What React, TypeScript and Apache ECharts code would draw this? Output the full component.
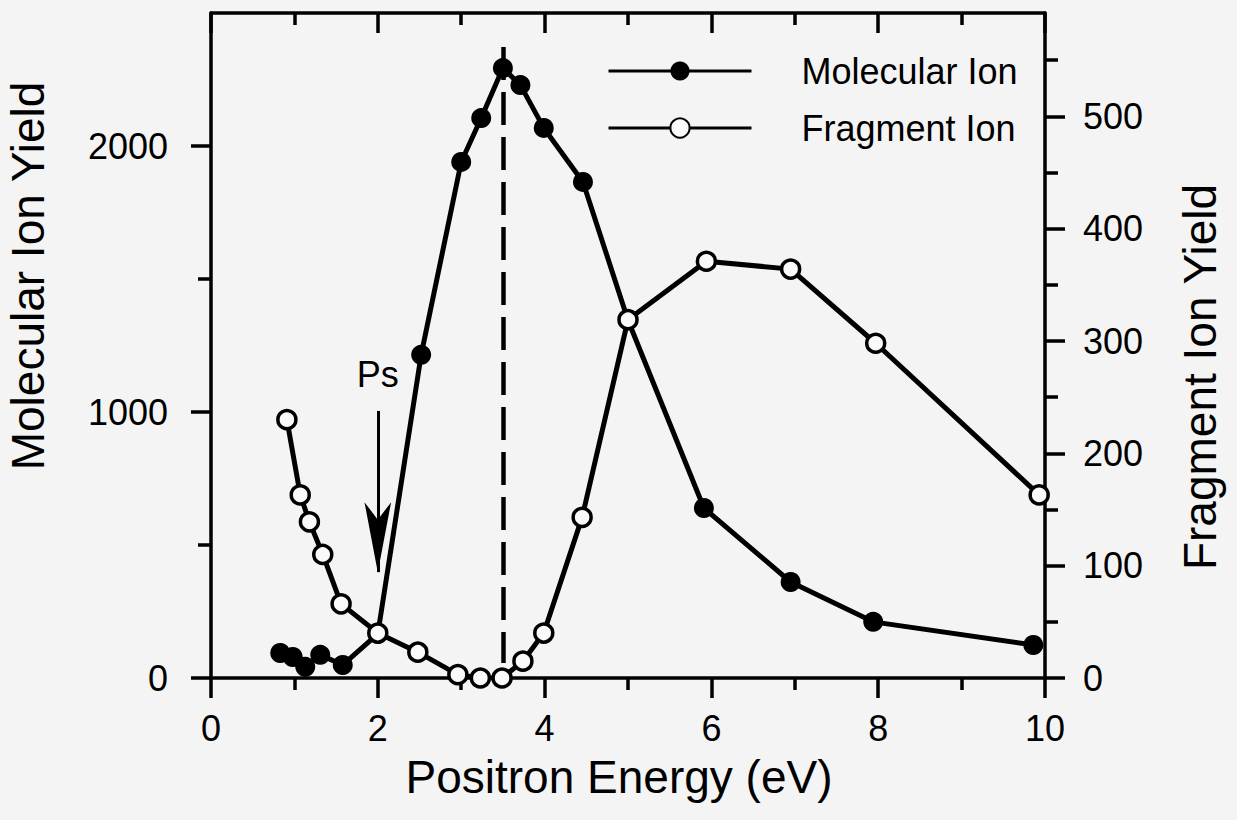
import React, { useEffect, useRef } from "react";
import * as echarts from "echarts";

// Positron energy (eV) for each measured point
const energyMolecular = [0.83, 0.98, 1.13, 1.31, 1.58, 2.0, 2.52, 3.0, 3.24, 3.5, 3.71, 3.99, 4.46, 5.0, 5.91, 6.95, 7.94, 9.86];
const molecularYield = [94, 79, 42, 87, 49, 166, 1215, 1940, 2105, 2293, 2229, 2068, 1865, 1345, 639, 361, 211, 124];

const energyFragment = [0.91, 1.07, 1.18, 1.34, 1.56, 2.0, 2.48, 2.96, 3.23, 3.49, 3.74, 3.99, 4.45, 5.0, 5.94, 6.95, 7.97, 9.93];
const fragmentYield = [230, 163, 139, 110, 66, 40, 23, 3, 0, 0, 15, 40, 143, 319, 371, 364, 298, 163];

// Axis ticks
const energyTicks = [0, 2, 4, 6, 8, 10];
const energyMinorTicks = [1, 3, 5, 7, 9];
const molecularTicks = [0, 1000, 2000];
const molecularMinorTicks = [500, 1500];
const fragmentTicks = [0, 100, 200, 300, 400, 500];
const fragmentMinorTicks = [50, 150, 250, 350, 450, 550];

// Annotations: dashed line at the molecular peak, arrow at the Ps threshold
const peakEnergy = 3.5;
const peakLineRange = [56, 2372];
const psEnergy = 2.0;
const psArrowRange = [1004, 398];

const ENERGY_MAX = 10;
const MOLECULAR_MAX = 2500;
const FRAGMENT_MAX = 592;

const FONT = "'Liberation Sans', Arial, Helvetica, sans-serif";
const INK = "#000";

const tickStyle = { color: INK, width: 3.5 };
const frameLine = { show: true, onZero: false, lineStyle: { color: INK, width: 3.5 } };
const plainNumber = (v: number) => String(v);
const labelFont = { fontSize: 36, color: INK, fontFamily: FONT };

// An axis that only draws a set of tick marks
function tickAxis(
  position: string,
  max: number,
  values: number[],
  length: number,
  inside: boolean
) {
  return {
    type: "value",
    position,
    min: 0,
    max,
    axisLine: { show: false, onZero: false },
    axisTick: { show: true, inside, length, lineStyle: { ...tickStyle }, customValues: values },
    axisLabel: { show: false, customValues: values },
    splitLine: { show: false },
  };
}

export default function App() {
  const ref = useRef<HTMLDivElement>(null);

  useEffect(() => {
    const chart = echarts.init(ref.current!, null, { renderer: "svg" });

    const molecularData = energyMolecular.map((e, i) => [e, molecularYield[i]]);
    const fragmentData = energyFragment.map((e, i) => [e, fragmentYield[i]]);

    chart.setOption({
      animation: false,
      backgroundColor: "#f4f4f4",
      textStyle: { fontFamily: FONT, color: INK },
      grid: { left: 211, right: 192, top: 13, bottom: 142, outerBoundsMode: "none" },
      legend: {
        orient: "vertical",
        left: 602,
        top: 48,
        itemWidth: 143,
        itemHeight: 24,
        itemGap: 21,
        selectedMode: false,
        lineStyle: { width: 3 },
        textStyle: { ...labelFont, padding: [0, 0, 0, 45] },
        data: ["Molecular Ion", "Fragment Ion"],
      },
      xAxis: [
        {
          type: "value",
          position: "bottom",
          min: 0,
          max: ENERGY_MAX,
          interval: 2,
          name: "Positron Energy (eV)",
          nameLocation: "middle",
          nameGap: 76,
          nameTextStyle: { fontSize: 46, color: INK, fontFamily: FONT, padding: [0, 18, 0, 0] },
          axisLine: frameLine,
          axisTick: { show: true, length: 20, lineStyle: { ...tickStyle } },
          minorTick: { show: true, splitNumber: 2, length: 12, lineStyle: { ...tickStyle } },
          axisLabel: { ...labelFont, margin: 32, formatter: plainNumber },
          splitLine: { show: false },
        },
        {
          type: "value",
          position: "top",
          min: 0,
          max: ENERGY_MAX,
          axisLine: frameLine,
          axisTick: { show: false },
          axisLabel: { show: false },
          splitLine: { show: false },
        },
        tickAxis("top", ENERGY_MAX, energyTicks, 20, true),
        tickAxis("top", ENERGY_MAX, energyMinorTicks, 12, true),
      ],
      yAxis: [
        {
          type: "value",
          position: "left",
          min: 0,
          max: MOLECULAR_MAX,
          axisLine: frameLine,
          axisTick: { show: false },
          axisLabel: { ...labelFont, margin: 43, formatter: plainNumber, customValues: molecularTicks },
          splitLine: { show: false },
        },
        {
          type: "value",
          position: "right",
          min: 0,
          max: FRAGMENT_MAX,
          axisLine: frameLine,
          axisTick: { show: false },
          axisLabel: { ...labelFont, margin: 38, formatter: plainNumber, customValues: fragmentTicks },
          splitLine: { show: false },
        },
        tickAxis("left", MOLECULAR_MAX, molecularTicks, 20, false),
        tickAxis("left", MOLECULAR_MAX, molecularMinorTicks, 13, false),
        tickAxis("right", FRAGMENT_MAX, fragmentTicks, 20, false),
        tickAxis("right", FRAGMENT_MAX, fragmentMinorTicks, 13, false),
      ],
      graphic: [
        {
          type: "text",
          x: 28,
          y: 276,
          rotation: Math.PI / 2,
          style: {
            text: "Molecular Ion Yield",
            fontSize: 46,
            fontFamily: FONT,
            fill: INK,
            align: "center",
            verticalAlign: "middle",
          },
        },
        {
          type: "text",
          x: 1200,
          y: 377,
          rotation: Math.PI / 2,
          style: {
            text: "Fragment Ion Yield",
            fontSize: 46,
            fontFamily: FONT,
            fill: INK,
            align: "center",
            verticalAlign: "middle",
          },
        },
      ],
      series: [
        {
          name: "Molecular Ion",
          type: "line",
          xAxisIndex: 0,
          yAxisIndex: 0,
          z: 2,
          data: molecularData,
          symbol: "circle",
          symbolSize: 20,
          itemStyle: { color: INK },
          lineStyle: { color: INK, width: 5 },
          markLine: {
            silent: true,
            symbol: "none",
            label: { show: false },
            lineStyle: { type: "solid", color: INK, width: 3 },
            data: [
              [
                {
                  coord: [peakEnergy, peakLineRange[1]],
                  lineStyle: { type: [33, 12], color: INK, width: 4.5 },
                },
                { coord: [peakEnergy, peakLineRange[0]] },
              ],
              [
                {
                  coord: [psEnergy, psArrowRange[0]],
                  symbol: "none",
                  label: {
                    show: true,
                    position: "start",
                    formatter: "Ps",
                    distance: 18,
                    ...labelFont,
                  },
                  lineStyle: { type: "solid", color: INK, width: 3 },
                },
                { coord: [psEnergy, psArrowRange[1]], symbol: "arrow", symbolSize: [20, 70] },
              ],
            ],
          },
        },
        {
          name: "Fragment Ion",
          type: "line",
          xAxisIndex: 0,
          yAxisIndex: 1,
          z: 3,
          data: fragmentData,
          symbol: "circle",
          symbolSize: 18,
          itemStyle: { color: "#fafafa", borderColor: INK, borderWidth: 3.5 },
          lineStyle: { color: INK, width: 5 },
        },
      ],
    });

    return () => chart.dispose();
  }, []);

  return (
    <div
      ref={ref}
      style={{ position: "fixed", left: 0, top: 0, width: 1237, height: 820 }}
    />
  );
}
